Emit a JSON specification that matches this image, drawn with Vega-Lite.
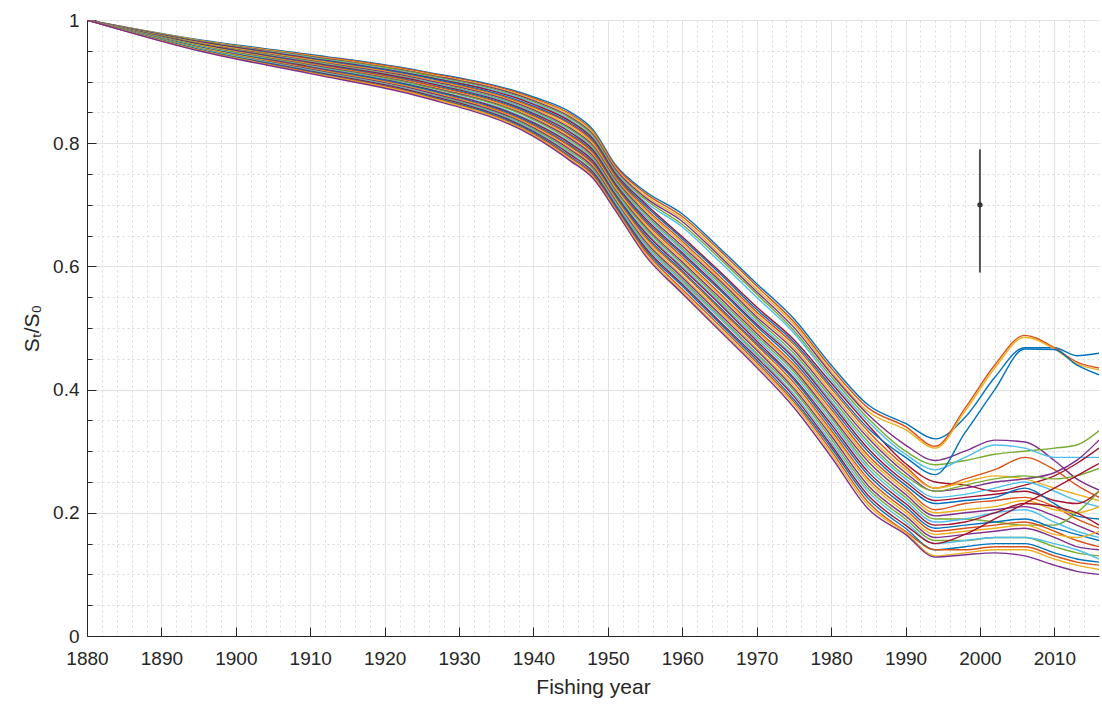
{
"$schema": "https://vega.github.io/schema/vega-lite/v6.json",
"width": 1012, "height": 616,
"autosize": "none",
"padding": {"left": 87, "top": 20, "right": 3, "bottom": 68},
"background": "white",
"config": {"view": {"stroke": null}, "font": "Liberation Sans"},
"datasets": {
"bar": [{"t": 2000, "v": 0.70, "lo": 0.59, "hi": 0.79}],
"runs": [
{"s":0,"t":1880,"v":1},{"s":0,"t":1895,"v":0.968},{"s":0,"t":1910,"v":0.944},{"s":0,"t":1925,"v":0.917},{"s":0,"t":1940,"v":0.875},{"s":0,"t":1945,"v":0.850},{"s":0,"t":1948,"v":0.822},{"s":0,"t":1951,"v":0.765},{"s":0,"t":1955,"v":0.722},{"s":0,"t":1960,"v":0.685},{"s":0,"t":1965,"v":0.630},{"s":0,"t":1970,"v":0.572},{"s":0,"t":1975,"v":0.515},{"s":0,"t":1980,"v":0.440},{"s":0,"t":1985,"v":0.375},{"s":0,"t":1990,"v":0.345},{"s":0,"t":1994,"v":0.320},{"s":0,"t":1998,"v":0.355},{"s":0,"t":2002,"v":0.420},{"s":0,"t":2006,"v":0.468},{"s":0,"t":2010,"v":0.468},{"s":0,"t":2013,"v":0.455},{"s":0,"t":2016,"v":0.459},
{"s":1,"t":1880,"v":1},{"s":1,"t":1895,"v":0.967},{"s":1,"t":1910,"v":0.943},{"s":1,"t":1925,"v":0.916},{"s":1,"t":1940,"v":0.873},{"s":1,"t":1945,"v":0.847},{"s":1,"t":1948,"v":0.819},{"s":1,"t":1951,"v":0.763},{"s":1,"t":1955,"v":0.719},{"s":1,"t":1960,"v":0.681},{"s":1,"t":1965,"v":0.626},{"s":1,"t":1970,"v":0.568},{"s":1,"t":1975,"v":0.510},{"s":1,"t":1980,"v":0.435},{"s":1,"t":1985,"v":0.370},{"s":1,"t":1990,"v":0.340},{"s":1,"t":1994,"v":0.308},{"s":1,"t":1998,"v":0.370},{"s":1,"t":2002,"v":0.440},{"s":1,"t":2006,"v":0.488},{"s":1,"t":2010,"v":0.468},{"s":1,"t":2013,"v":0.445},{"s":1,"t":2016,"v":0.435},
{"s":2,"t":1880,"v":1},{"s":2,"t":1895,"v":0.967},{"s":2,"t":1910,"v":0.942},{"s":2,"t":1925,"v":0.914},{"s":2,"t":1940,"v":0.871},{"s":2,"t":1945,"v":0.845},{"s":2,"t":1948,"v":0.817},{"s":2,"t":1951,"v":0.760},{"s":2,"t":1955,"v":0.715},{"s":2,"t":1960,"v":0.677},{"s":2,"t":1965,"v":0.621},{"s":2,"t":1970,"v":0.563},{"s":2,"t":1975,"v":0.506},{"s":2,"t":1980,"v":0.430},{"s":2,"t":1985,"v":0.364},{"s":2,"t":1990,"v":0.335},{"s":2,"t":1994,"v":0.305},{"s":2,"t":1998,"v":0.365},{"s":2,"t":2002,"v":0.435},{"s":2,"t":2006,"v":0.485},{"s":2,"t":2010,"v":0.466},{"s":2,"t":2013,"v":0.442},{"s":2,"t":2016,"v":0.432},
{"s":3,"t":1880,"v":1},{"s":3,"t":1895,"v":0.966},{"s":3,"t":1910,"v":0.941},{"s":3,"t":1925,"v":0.913},{"s":3,"t":1940,"v":0.869},{"s":3,"t":1945,"v":0.842},{"s":3,"t":1948,"v":0.814},{"s":3,"t":1951,"v":0.758},{"s":3,"t":1955,"v":0.712},{"s":3,"t":1960,"v":0.673},{"s":3,"t":1965,"v":0.617},{"s":3,"t":1970,"v":0.559},{"s":3,"t":1975,"v":0.501},{"s":3,"t":1980,"v":0.426},{"s":3,"t":1985,"v":0.359},{"s":3,"t":1990,"v":0.310},{"s":3,"t":1994,"v":0.285},{"s":3,"t":1998,"v":0.300},{"s":3,"t":2002,"v":0.318},{"s":3,"t":2006,"v":0.315},{"s":3,"t":2010,"v":0.285},{"s":3,"t":2013,"v":0.255},{"s":3,"t":2016,"v":0.237},
{"s":4,"t":1880,"v":1},{"s":4,"t":1895,"v":0.966},{"s":4,"t":1910,"v":0.940},{"s":4,"t":1925,"v":0.912},{"s":4,"t":1940,"v":0.867},{"s":4,"t":1945,"v":0.840},{"s":4,"t":1948,"v":0.812},{"s":4,"t":1951,"v":0.755},{"s":4,"t":1955,"v":0.709},{"s":4,"t":1960,"v":0.668},{"s":4,"t":1965,"v":0.613},{"s":4,"t":1970,"v":0.555},{"s":4,"t":1975,"v":0.496},{"s":4,"t":1980,"v":0.421},{"s":4,"t":1985,"v":0.353},{"s":4,"t":1990,"v":0.300},{"s":4,"t":1994,"v":0.278},{"s":4,"t":1998,"v":0.285},{"s":4,"t":2002,"v":0.295},{"s":4,"t":2006,"v":0.300},{"s":4,"t":2010,"v":0.305},{"s":4,"t":2013,"v":0.310},{"s":4,"t":2016,"v":0.333},
{"s":5,"t":1880,"v":1},{"s":5,"t":1895,"v":0.965},{"s":5,"t":1910,"v":0.939},{"s":5,"t":1925,"v":0.910},{"s":5,"t":1940,"v":0.865},{"s":5,"t":1945,"v":0.837},{"s":5,"t":1948,"v":0.809},{"s":5,"t":1951,"v":0.753},{"s":5,"t":1955,"v":0.705},{"s":5,"t":1960,"v":0.664},{"s":5,"t":1965,"v":0.608},{"s":5,"t":1970,"v":0.550},{"s":5,"t":1975,"v":0.492},{"s":5,"t":1980,"v":0.416},{"s":5,"t":1985,"v":0.348},{"s":5,"t":1990,"v":0.295},{"s":5,"t":1994,"v":0.270},{"s":5,"t":1998,"v":0.290},{"s":5,"t":2002,"v":0.310},{"s":5,"t":2006,"v":0.305},{"s":5,"t":2010,"v":0.290},{"s":5,"t":2013,"v":0.290},{"s":5,"t":2016,"v":0.290},
{"s":6,"t":1880,"v":1},{"s":6,"t":1895,"v":0.965},{"s":6,"t":1910,"v":0.938},{"s":6,"t":1925,"v":0.909},{"s":6,"t":1940,"v":0.863},{"s":6,"t":1945,"v":0.835},{"s":6,"t":1948,"v":0.807},{"s":6,"t":1951,"v":0.751},{"s":6,"t":1955,"v":0.702},{"s":6,"t":1960,"v":0.648},{"s":6,"t":1965,"v":0.592},{"s":6,"t":1970,"v":0.534},{"s":6,"t":1975,"v":0.481},{"s":6,"t":1980,"v":0.411},{"s":6,"t":1985,"v":0.342},{"s":6,"t":1990,"v":0.280},{"s":6,"t":1994,"v":0.250},{"s":6,"t":1998,"v":0.245},{"s":6,"t":2002,"v":0.235},{"s":6,"t":2006,"v":0.245},{"s":6,"t":2010,"v":0.260},{"s":6,"t":2013,"v":0.280},{"s":6,"t":2016,"v":0.305},
{"s":7,"t":1880,"v":1},{"s":7,"t":1895,"v":0.964},{"s":7,"t":1910,"v":0.937},{"s":7,"t":1925,"v":0.908},{"s":7,"t":1940,"v":0.860},{"s":7,"t":1945,"v":0.832},{"s":7,"t":1948,"v":0.804},{"s":7,"t":1951,"v":0.748},{"s":7,"t":1955,"v":0.699},{"s":7,"t":1960,"v":0.645},{"s":7,"t":1965,"v":0.589},{"s":7,"t":1970,"v":0.530},{"s":7,"t":1975,"v":0.477},{"s":7,"t":1980,"v":0.406},{"s":7,"t":1985,"v":0.337},{"s":7,"t":1990,"v":0.290},{"s":7,"t":1994,"v":0.262},{"s":7,"t":1998,"v":0.330},{"s":7,"t":2002,"v":0.400},{"s":7,"t":2006,"v":0.466},{"s":7,"t":2010,"v":0.465},{"s":7,"t":2013,"v":0.440},{"s":7,"t":2016,"v":0.424},
{"s":8,"t":1880,"v":1},{"s":8,"t":1895,"v":0.963},{"s":8,"t":1910,"v":0.936},{"s":8,"t":1925,"v":0.906},{"s":8,"t":1940,"v":0.858},{"s":8,"t":1945,"v":0.830},{"s":8,"t":1948,"v":0.802},{"s":8,"t":1951,"v":0.746},{"s":8,"t":1955,"v":0.695},{"s":8,"t":1960,"v":0.641},{"s":8,"t":1965,"v":0.584},{"s":8,"t":1970,"v":0.526},{"s":8,"t":1975,"v":0.473},{"s":8,"t":1980,"v":0.402},{"s":8,"t":1985,"v":0.332},{"s":8,"t":1990,"v":0.275},{"s":8,"t":1994,"v":0.240},{"s":8,"t":1998,"v":0.255},{"s":8,"t":2002,"v":0.270},{"s":8,"t":2006,"v":0.290},{"s":8,"t":2010,"v":0.270},{"s":8,"t":2013,"v":0.245},{"s":8,"t":2016,"v":0.225},
{"s":9,"t":1880,"v":1},{"s":9,"t":1895,"v":0.963},{"s":9,"t":1910,"v":0.935},{"s":9,"t":1925,"v":0.905},{"s":9,"t":1940,"v":0.856},{"s":9,"t":1945,"v":0.827},{"s":9,"t":1948,"v":0.799},{"s":9,"t":1951,"v":0.743},{"s":9,"t":1955,"v":0.692},{"s":9,"t":1960,"v":0.637},{"s":9,"t":1965,"v":0.580},{"s":9,"t":1970,"v":0.522},{"s":9,"t":1975,"v":0.468},{"s":9,"t":1980,"v":0.397},{"s":9,"t":1985,"v":0.326},{"s":9,"t":1990,"v":0.270},{"s":9,"t":1994,"v":0.240},{"s":9,"t":1998,"v":0.250},{"s":9,"t":2002,"v":0.260},{"s":9,"t":2006,"v":0.255},{"s":9,"t":2010,"v":0.240},{"s":9,"t":2013,"v":0.230},{"s":9,"t":2016,"v":0.220},
{"s":10,"t":1880,"v":1},{"s":10,"t":1895,"v":0.962},{"s":10,"t":1910,"v":0.934},{"s":10,"t":1925,"v":0.904},{"s":10,"t":1940,"v":0.854},{"s":10,"t":1945,"v":0.824},{"s":10,"t":1948,"v":0.796},{"s":10,"t":1951,"v":0.741},{"s":10,"t":1955,"v":0.688},{"s":10,"t":1960,"v":0.633},{"s":10,"t":1965,"v":0.577},{"s":10,"t":1970,"v":0.518},{"s":10,"t":1975,"v":0.464},{"s":10,"t":1980,"v":0.392},{"s":10,"t":1985,"v":0.321},{"s":10,"t":1990,"v":0.265},{"s":10,"t":1994,"v":0.235},{"s":10,"t":1998,"v":0.240},{"s":10,"t":2002,"v":0.250},{"s":10,"t":2006,"v":0.255},{"s":10,"t":2010,"v":0.265},{"s":10,"t":2013,"v":0.285},{"s":10,"t":2016,"v":0.318},
{"s":11,"t":1880,"v":1},{"s":11,"t":1895,"v":0.962},{"s":11,"t":1910,"v":0.933},{"s":11,"t":1925,"v":0.902},{"s":11,"t":1940,"v":0.852},{"s":11,"t":1945,"v":0.822},{"s":11,"t":1948,"v":0.794},{"s":11,"t":1951,"v":0.739},{"s":11,"t":1955,"v":0.685},{"s":11,"t":1960,"v":0.629},{"s":11,"t":1965,"v":0.573},{"s":11,"t":1970,"v":0.514},{"s":11,"t":1975,"v":0.459},{"s":11,"t":1980,"v":0.387},{"s":11,"t":1985,"v":0.315},{"s":11,"t":1990,"v":0.260},{"s":11,"t":1994,"v":0.235},{"s":11,"t":1998,"v":0.245},{"s":11,"t":2002,"v":0.255},{"s":11,"t":2006,"v":0.260},{"s":11,"t":2010,"v":0.255},{"s":11,"t":2013,"v":0.260},{"s":11,"t":2016,"v":0.272},
{"s":12,"t":1880,"v":1},{"s":12,"t":1895,"v":0.961},{"s":12,"t":1910,"v":0.932},{"s":12,"t":1925,"v":0.901},{"s":12,"t":1940,"v":0.850},{"s":12,"t":1945,"v":0.819},{"s":12,"t":1948,"v":0.791},{"s":12,"t":1951,"v":0.736},{"s":12,"t":1955,"v":0.682},{"s":12,"t":1960,"v":0.626},{"s":12,"t":1965,"v":0.569},{"s":12,"t":1970,"v":0.510},{"s":12,"t":1975,"v":0.454},{"s":12,"t":1980,"v":0.382},{"s":12,"t":1985,"v":0.310},{"s":12,"t":1990,"v":0.255},{"s":12,"t":1994,"v":0.225},{"s":12,"t":1998,"v":0.230},{"s":12,"t":2002,"v":0.240},{"s":12,"t":2006,"v":0.250},{"s":12,"t":2010,"v":0.235},{"s":12,"t":2013,"v":0.220},{"s":12,"t":2016,"v":0.210},
{"s":13,"t":1880,"v":1},{"s":13,"t":1895,"v":0.961},{"s":13,"t":1910,"v":0.931},{"s":13,"t":1925,"v":0.900},{"s":13,"t":1940,"v":0.848},{"s":13,"t":1945,"v":0.817},{"s":13,"t":1948,"v":0.789},{"s":13,"t":1951,"v":0.734},{"s":13,"t":1955,"v":0.678},{"s":13,"t":1960,"v":0.622},{"s":13,"t":1965,"v":0.565},{"s":13,"t":1970,"v":0.506},{"s":13,"t":1975,"v":0.451},{"s":13,"t":1980,"v":0.378},{"s":13,"t":1985,"v":0.304},{"s":13,"t":1990,"v":0.250},{"s":13,"t":1994,"v":0.220},{"s":13,"t":1998,"v":0.225},{"s":13,"t":2002,"v":0.230},{"s":13,"t":2006,"v":0.235},{"s":13,"t":2010,"v":0.220},{"s":13,"t":2013,"v":0.215},{"s":13,"t":2016,"v":0.235},
{"s":14,"t":1880,"v":1},{"s":14,"t":1895,"v":0.960},{"s":14,"t":1910,"v":0.930},{"s":14,"t":1925,"v":0.898},{"s":14,"t":1940,"v":0.846},{"s":14,"t":1945,"v":0.814},{"s":14,"t":1948,"v":0.786},{"s":14,"t":1951,"v":0.731},{"s":14,"t":1955,"v":0.675},{"s":14,"t":1960,"v":0.619},{"s":14,"t":1965,"v":0.562},{"s":14,"t":1970,"v":0.503},{"s":14,"t":1975,"v":0.446},{"s":14,"t":1980,"v":0.373},{"s":14,"t":1985,"v":0.299},{"s":14,"t":1990,"v":0.245},{"s":14,"t":1994,"v":0.215},{"s":14,"t":1998,"v":0.220},{"s":14,"t":2002,"v":0.225},{"s":14,"t":2006,"v":0.240},{"s":14,"t":2010,"v":0.215},{"s":14,"t":2013,"v":0.195},{"s":14,"t":2016,"v":0.190},
{"s":15,"t":1880,"v":1},{"s":15,"t":1895,"v":0.959},{"s":15,"t":1910,"v":0.929},{"s":15,"t":1925,"v":0.897},{"s":15,"t":1940,"v":0.844},{"s":15,"t":1945,"v":0.812},{"s":15,"t":1948,"v":0.784},{"s":15,"t":1951,"v":0.729},{"s":15,"t":1955,"v":0.672},{"s":15,"t":1960,"v":0.615},{"s":15,"t":1965,"v":0.557},{"s":15,"t":1970,"v":0.498},{"s":15,"t":1975,"v":0.441},{"s":15,"t":1980,"v":0.368},{"s":15,"t":1985,"v":0.293},{"s":15,"t":1990,"v":0.240},{"s":15,"t":1994,"v":0.205},{"s":15,"t":1998,"v":0.215},{"s":15,"t":2002,"v":0.220},{"s":15,"t":2006,"v":0.225},{"s":15,"t":2010,"v":0.210},{"s":15,"t":2013,"v":0.190},{"s":15,"t":2016,"v":0.175},
{"s":16,"t":1880,"v":1},{"s":16,"t":1895,"v":0.959},{"s":16,"t":1910,"v":0.928},{"s":16,"t":1925,"v":0.895},{"s":16,"t":1940,"v":0.842},{"s":16,"t":1945,"v":0.809},{"s":16,"t":1948,"v":0.781},{"s":16,"t":1951,"v":0.727},{"s":16,"t":1955,"v":0.668},{"s":16,"t":1960,"v":0.611},{"s":16,"t":1965,"v":0.554},{"s":16,"t":1970,"v":0.495},{"s":16,"t":1975,"v":0.437},{"s":16,"t":1980,"v":0.363},{"s":16,"t":1985,"v":0.288},{"s":16,"t":1990,"v":0.235},{"s":16,"t":1994,"v":0.200},{"s":16,"t":1998,"v":0.205},{"s":16,"t":2002,"v":0.210},{"s":16,"t":2006,"v":0.220},{"s":16,"t":2010,"v":0.205},{"s":16,"t":2013,"v":0.200},{"s":16,"t":2016,"v":0.210},
{"s":17,"t":1880,"v":1},{"s":17,"t":1895,"v":0.958},{"s":17,"t":1910,"v":0.927},{"s":17,"t":1925,"v":0.894},{"s":17,"t":1940,"v":0.840},{"s":17,"t":1945,"v":0.807},{"s":17,"t":1948,"v":0.779},{"s":17,"t":1951,"v":0.724},{"s":17,"t":1955,"v":0.665},{"s":17,"t":1960,"v":0.607},{"s":17,"t":1965,"v":0.550},{"s":17,"t":1970,"v":0.491},{"s":17,"t":1975,"v":0.433},{"s":17,"t":1980,"v":0.358},{"s":17,"t":1985,"v":0.283},{"s":17,"t":1990,"v":0.230},{"s":17,"t":1994,"v":0.195},{"s":17,"t":1998,"v":0.200},{"s":17,"t":2002,"v":0.205},{"s":17,"t":2006,"v":0.210},{"s":17,"t":2010,"v":0.195},{"s":17,"t":2013,"v":0.180},{"s":17,"t":2016,"v":0.165},
{"s":18,"t":1880,"v":1},{"s":18,"t":1895,"v":0.958},{"s":18,"t":1910,"v":0.926},{"s":18,"t":1925,"v":0.893},{"s":18,"t":1940,"v":0.838},{"s":18,"t":1945,"v":0.804},{"s":18,"t":1948,"v":0.776},{"s":18,"t":1951,"v":0.722},{"s":18,"t":1955,"v":0.662},{"s":18,"t":1960,"v":0.604},{"s":18,"t":1965,"v":0.546},{"s":18,"t":1970,"v":0.487},{"s":18,"t":1975,"v":0.429},{"s":18,"t":1980,"v":0.354},{"s":18,"t":1985,"v":0.277},{"s":18,"t":1990,"v":0.225},{"s":18,"t":1994,"v":0.190},{"s":18,"t":1998,"v":0.190},{"s":18,"t":2002,"v":0.185},{"s":18,"t":2006,"v":0.180},{"s":18,"t":2010,"v":0.180},{"s":18,"t":2013,"v":0.200},{"s":18,"t":2016,"v":0.235},
{"s":19,"t":1880,"v":1},{"s":19,"t":1895,"v":0.957},{"s":19,"t":1910,"v":0.925},{"s":19,"t":1925,"v":0.891},{"s":19,"t":1940,"v":0.835},{"s":19,"t":1945,"v":0.801},{"s":19,"t":1948,"v":0.773},{"s":19,"t":1951,"v":0.719},{"s":19,"t":1955,"v":0.658},{"s":19,"t":1960,"v":0.600},{"s":19,"t":1965,"v":0.542},{"s":19,"t":1970,"v":0.483},{"s":19,"t":1975,"v":0.424},{"s":19,"t":1980,"v":0.349},{"s":19,"t":1985,"v":0.272},{"s":19,"t":1990,"v":0.220},{"s":19,"t":1994,"v":0.185},{"s":19,"t":1998,"v":0.190},{"s":19,"t":2002,"v":0.200},{"s":19,"t":2006,"v":0.205},{"s":19,"t":2010,"v":0.185},{"s":19,"t":2013,"v":0.170},{"s":19,"t":2016,"v":0.160},
{"s":20,"t":1880,"v":1},{"s":20,"t":1895,"v":0.956},{"s":20,"t":1910,"v":0.924},{"s":20,"t":1925,"v":0.890},{"s":20,"t":1940,"v":0.833},{"s":20,"t":1945,"v":0.799},{"s":20,"t":1948,"v":0.771},{"s":20,"t":1951,"v":0.717},{"s":20,"t":1955,"v":0.655},{"s":20,"t":1960,"v":0.597},{"s":20,"t":1965,"v":0.539},{"s":20,"t":1970,"v":0.479},{"s":20,"t":1975,"v":0.419},{"s":20,"t":1980,"v":0.344},{"s":20,"t":1985,"v":0.266},{"s":20,"t":1990,"v":0.215},{"s":20,"t":1994,"v":0.180},{"s":20,"t":1998,"v":0.185},{"s":20,"t":2002,"v":0.200},{"s":20,"t":2006,"v":0.215},{"s":20,"t":2010,"v":0.210},{"s":20,"t":2013,"v":0.200},{"s":20,"t":2016,"v":0.180},
{"s":21,"t":1880,"v":1},{"s":21,"t":1895,"v":0.956},{"s":21,"t":1910,"v":0.923},{"s":21,"t":1925,"v":0.889},{"s":21,"t":1940,"v":0.831},{"s":21,"t":1945,"v":0.796},{"s":21,"t":1948,"v":0.768},{"s":21,"t":1951,"v":0.715},{"s":21,"t":1955,"v":0.651},{"s":21,"t":1960,"v":0.593},{"s":21,"t":1965,"v":0.534},{"s":21,"t":1970,"v":0.475},{"s":21,"t":1975,"v":0.416},{"s":21,"t":1980,"v":0.339},{"s":21,"t":1985,"v":0.261},{"s":21,"t":1990,"v":0.210},{"s":21,"t":1994,"v":0.175},{"s":21,"t":1998,"v":0.180},{"s":21,"t":2002,"v":0.185},{"s":21,"t":2006,"v":0.190},{"s":21,"t":2010,"v":0.175},{"s":21,"t":2013,"v":0.165},{"s":21,"t":2016,"v":0.155},
{"s":22,"t":1880,"v":1},{"s":22,"t":1895,"v":0.955},{"s":22,"t":1910,"v":0.922},{"s":22,"t":1925,"v":0.887},{"s":22,"t":1940,"v":0.829},{"s":22,"t":1945,"v":0.794},{"s":22,"t":1948,"v":0.766},{"s":22,"t":1951,"v":0.712},{"s":22,"t":1955,"v":0.648},{"s":22,"t":1960,"v":0.590},{"s":22,"t":1965,"v":0.531},{"s":22,"t":1970,"v":0.472},{"s":22,"t":1975,"v":0.411},{"s":22,"t":1980,"v":0.334},{"s":22,"t":1985,"v":0.255},{"s":22,"t":1990,"v":0.205},{"s":22,"t":1994,"v":0.170},{"s":22,"t":1998,"v":0.175},{"s":22,"t":2002,"v":0.180},{"s":22,"t":2006,"v":0.185},{"s":22,"t":2010,"v":0.170},{"s":22,"t":2013,"v":0.155},{"s":22,"t":2016,"v":0.145},
{"s":23,"t":1880,"v":1},{"s":23,"t":1895,"v":0.955},{"s":23,"t":1910,"v":0.921},{"s":23,"t":1925,"v":0.886},{"s":23,"t":1940,"v":0.827},{"s":23,"t":1945,"v":0.791},{"s":23,"t":1948,"v":0.763},{"s":23,"t":1951,"v":0.710},{"s":23,"t":1955,"v":0.645},{"s":23,"t":1960,"v":0.585},{"s":23,"t":1965,"v":0.527},{"s":23,"t":1970,"v":0.467},{"s":23,"t":1975,"v":0.406},{"s":23,"t":1980,"v":0.330},{"s":23,"t":1985,"v":0.250},{"s":23,"t":1990,"v":0.200},{"s":23,"t":1994,"v":0.165},{"s":23,"t":1998,"v":0.170},{"s":23,"t":2002,"v":0.175},{"s":23,"t":2006,"v":0.180},{"s":23,"t":2010,"v":0.165},{"s":23,"t":2013,"v":0.160},{"s":23,"t":2016,"v":0.170},
{"s":24,"t":1880,"v":1},{"s":24,"t":1895,"v":0.954},{"s":24,"t":1910,"v":0.920},{"s":24,"t":1925,"v":0.885},{"s":24,"t":1940,"v":0.825},{"s":24,"t":1945,"v":0.789},{"s":24,"t":1948,"v":0.761},{"s":24,"t":1951,"v":0.707},{"s":24,"t":1955,"v":0.641},{"s":24,"t":1960,"v":0.582},{"s":24,"t":1965,"v":0.523},{"s":24,"t":1970,"v":0.464},{"s":24,"t":1975,"v":0.402},{"s":24,"t":1980,"v":0.325},{"s":24,"t":1985,"v":0.244},{"s":24,"t":1990,"v":0.195},{"s":24,"t":1994,"v":0.160},{"s":24,"t":1998,"v":0.165},{"s":24,"t":2002,"v":0.170},{"s":24,"t":2006,"v":0.175},{"s":24,"t":2010,"v":0.160},{"s":24,"t":2013,"v":0.145},{"s":24,"t":2016,"v":0.140},
{"s":25,"t":1880,"v":1},{"s":25,"t":1895,"v":0.954},{"s":25,"t":1910,"v":0.919},{"s":25,"t":1925,"v":0.883},{"s":25,"t":1940,"v":0.823},{"s":25,"t":1945,"v":0.786},{"s":25,"t":1948,"v":0.758},{"s":25,"t":1951,"v":0.705},{"s":25,"t":1955,"v":0.638},{"s":25,"t":1960,"v":0.578},{"s":25,"t":1965,"v":0.519},{"s":25,"t":1970,"v":0.459},{"s":25,"t":1975,"v":0.398},{"s":25,"t":1980,"v":0.320},{"s":25,"t":1985,"v":0.239},{"s":25,"t":1990,"v":0.190},{"s":25,"t":1994,"v":0.155},{"s":25,"t":1998,"v":0.155},{"s":25,"t":2002,"v":0.160},{"s":25,"t":2006,"v":0.160},{"s":25,"t":2010,"v":0.145},{"s":25,"t":2013,"v":0.135},{"s":25,"t":2016,"v":0.130},
{"s":26,"t":1880,"v":1},{"s":26,"t":1895,"v":0.953},{"s":26,"t":1910,"v":0.918},{"s":26,"t":1925,"v":0.882},{"s":26,"t":1940,"v":0.821},{"s":26,"t":1945,"v":0.783},{"s":26,"t":1948,"v":0.755},{"s":26,"t":1951,"v":0.703},{"s":26,"t":1955,"v":0.635},{"s":26,"t":1960,"v":0.575},{"s":26,"t":1965,"v":0.516},{"s":26,"t":1970,"v":0.456},{"s":26,"t":1975,"v":0.393},{"s":26,"t":1980,"v":0.315},{"s":26,"t":1985,"v":0.234},{"s":26,"t":1990,"v":0.185},{"s":26,"t":1994,"v":0.150},{"s":26,"t":1998,"v":0.155},{"s":26,"t":2002,"v":0.160},{"s":26,"t":2006,"v":0.160},{"s":26,"t":2010,"v":0.150},{"s":26,"t":2013,"v":0.140},{"s":26,"t":2016,"v":0.125},
{"s":27,"t":1880,"v":1},{"s":27,"t":1895,"v":0.952},{"s":27,"t":1910,"v":0.917},{"s":27,"t":1925,"v":0.881},{"s":27,"t":1940,"v":0.819},{"s":27,"t":1945,"v":0.781},{"s":27,"t":1948,"v":0.753},{"s":27,"t":1951,"v":0.700},{"s":27,"t":1955,"v":0.631},{"s":27,"t":1960,"v":0.571},{"s":27,"t":1965,"v":0.511},{"s":27,"t":1970,"v":0.452},{"s":27,"t":1975,"v":0.389},{"s":27,"t":1980,"v":0.310},{"s":27,"t":1985,"v":0.228},{"s":27,"t":1990,"v":0.180},{"s":27,"t":1994,"v":0.150},{"s":27,"t":1998,"v":0.165},{"s":27,"t":2002,"v":0.190},{"s":27,"t":2006,"v":0.215},{"s":27,"t":2010,"v":0.240},{"s":27,"t":2013,"v":0.260},{"s":27,"t":2016,"v":0.280},
{"s":28,"t":1880,"v":1},{"s":28,"t":1895,"v":0.952},{"s":28,"t":1910,"v":0.916},{"s":28,"t":1925,"v":0.879},{"s":28,"t":1940,"v":0.817},{"s":28,"t":1945,"v":0.778},{"s":28,"t":1948,"v":0.750},{"s":28,"t":1951,"v":0.698},{"s":28,"t":1955,"v":0.628},{"s":28,"t":1960,"v":0.568},{"s":28,"t":1965,"v":0.508},{"s":28,"t":1970,"v":0.448},{"s":28,"t":1975,"v":0.384},{"s":28,"t":1980,"v":0.306},{"s":28,"t":1985,"v":0.223},{"s":28,"t":1990,"v":0.175},{"s":28,"t":1994,"v":0.140},{"s":28,"t":1998,"v":0.145},{"s":28,"t":2002,"v":0.150},{"s":28,"t":2006,"v":0.150},{"s":28,"t":2010,"v":0.135},{"s":28,"t":2013,"v":0.125},{"s":28,"t":2016,"v":0.120},
{"s":29,"t":1880,"v":1},{"s":29,"t":1895,"v":0.951},{"s":29,"t":1910,"v":0.915},{"s":29,"t":1925,"v":0.878},{"s":29,"t":1940,"v":0.815},{"s":29,"t":1945,"v":0.776},{"s":29,"t":1948,"v":0.748},{"s":29,"t":1951,"v":0.695},{"s":29,"t":1955,"v":0.625},{"s":29,"t":1960,"v":0.563},{"s":29,"t":1965,"v":0.504},{"s":29,"t":1970,"v":0.444},{"s":29,"t":1975,"v":0.380},{"s":29,"t":1980,"v":0.301},{"s":29,"t":1985,"v":0.217},{"s":29,"t":1990,"v":0.170},{"s":29,"t":1994,"v":0.140},{"s":29,"t":1998,"v":0.140},{"s":29,"t":2002,"v":0.145},{"s":29,"t":2006,"v":0.145},{"s":29,"t":2010,"v":0.130},{"s":29,"t":2013,"v":0.120},{"s":29,"t":2016,"v":0.115},
{"s":30,"t":1880,"v":1},{"s":30,"t":1895,"v":0.951},{"s":30,"t":1910,"v":0.914},{"s":30,"t":1925,"v":0.877},{"s":30,"t":1940,"v":0.813},{"s":30,"t":1945,"v":0.773},{"s":30,"t":1948,"v":0.745},{"s":30,"t":1951,"v":0.693},{"s":30,"t":1955,"v":0.621},{"s":30,"t":1960,"v":0.559},{"s":30,"t":1965,"v":0.499},{"s":30,"t":1970,"v":0.440},{"s":30,"t":1975,"v":0.376},{"s":30,"t":1980,"v":0.296},{"s":30,"t":1985,"v":0.212},{"s":30,"t":1990,"v":0.168},{"s":30,"t":1994,"v":0.130},{"s":30,"t":1998,"v":0.135},{"s":30,"t":2002,"v":0.140},{"s":30,"t":2006,"v":0.140},{"s":30,"t":2010,"v":0.125},{"s":30,"t":2013,"v":0.115},{"s":30,"t":2016,"v":0.108},
{"s":31,"t":1880,"v":1},{"s":31,"t":1895,"v":0.950},{"s":31,"t":1910,"v":0.913},{"s":31,"t":1925,"v":0.875},{"s":31,"t":1940,"v":0.811},{"s":31,"t":1945,"v":0.771},{"s":31,"t":1948,"v":0.743},{"s":31,"t":1951,"v":0.691},{"s":31,"t":1955,"v":0.618},{"s":31,"t":1960,"v":0.556},{"s":31,"t":1965,"v":0.496},{"s":31,"t":1970,"v":0.436},{"s":31,"t":1975,"v":0.371},{"s":31,"t":1980,"v":0.291},{"s":31,"t":1985,"v":0.206},{"s":31,"t":1990,"v":0.165},{"s":31,"t":1994,"v":0.128},{"s":31,"t":1998,"v":0.132},{"s":31,"t":2002,"v":0.135},{"s":31,"t":2006,"v":0.130},{"s":31,"t":2010,"v":0.115},{"s":31,"t":2013,"v":0.105},{"s":31,"t":2016,"v":0.100}
]},
"layer": [
{"data": {"name": "runs"},
 "mark": {"type": "line", "interpolate": "monotone", "strokeWidth": 1.4, "clip": true},
 "encoding": {
  "x": {"field": "t", "type": "quantitative", "scale": {"domain": [1880, 2016], "nice": false, "zero": false},
        "axis": {"orient": "bottom", "values": [1880,1890,1900,1910,1920,1930,1940,1950,1960,1970,1980,1990,2000,2010], "format": "d",
                 "title": "Fishing year", "grid": true, "gridColor": "#e2e2e2", "gridWidth": 1, "labelFlush": false,
                 "domainColor": "#262626", "domainWidth": 1, "tickColor": "#262626", "tickSize": -9, "tickWidth": 1,
                 "labelPadding": 22, "labelFontSize": 19, "labelColor": "#262626", "labelFont": "Liberation Sans",
                 "titleFontSize": 21, "titleColor": "#262626", "titleFontWeight": "normal", "titleFont": "Liberation Sans", "titlePadding": 8}},
  "y": {"field": "v", "type": "quantitative", "scale": {"domain": [0, 1], "nice": false},
        "axis": {"orient": "left", "values": [0,0.2,0.4,0.6,0.8,1], "format": ".1~f", "labelFlush": false,
                 "title": "Sₜ/S₀", "grid": true, "gridColor": "#e2e2e2", "gridWidth": 1,
                 "domainColor": "#262626", "domainWidth": 1, "tickColor": "#262626", "tickSize": -9, "tickWidth": 1,
                 "labelPadding": 17, "labelFontSize": 19, "labelColor": "#262626", "labelFont": "Liberation Sans",
                 "titleFontSize": 21, "titleColor": "#262626", "titleFontWeight": "normal", "titleFont": "Liberation Sans", "titlePadding": 10}},
  "color": {"field": "s", "type": "nominal", "scale": {"range": ["#0072BD","#D95319","#EDB120","#7E2F8E","#77AC30","#4DBEEE","#A2142F"]}, "legend": null}
 }},
{"data": {"name": "bar"},
 "mark": {"type": "rule", "strokeWidth": 2, "color": "#555555"},
 "encoding": {
  "x": {"field": "t", "type": "quantitative",
        "axis": {"orient": "bottom", "values": [1882,1884,1886,1888,1892,1894,1896,1898,1902,1904,1906,1908,1912,1914,1916,1918,1922,1924,1926,1928,1932,1934,1936,1938,1942,1944,1946,1948,1952,1954,1956,1958,1962,1964,1966,1968,1972,1974,1976,1978,1982,1984,1986,1988,1992,1994,1996,1998,2002,2004,2006,2008,2012,2014],
                 "grid": true, "gridColor": "#d9d9d9", "gridDash": [2, 3], "gridWidth": 1, "ticks": false, "labels": false, "domain": false, "title": null}},
  "y": {"field": "lo", "type": "quantitative",
        "axis": {"orient": "left", "values": [0.05,0.1,0.15,0.25,0.3,0.35,0.45,0.5,0.55,0.65,0.7,0.75,0.85,0.9,0.95],
                 "grid": true, "gridColor": "#d9d9d9", "gridDash": [2, 3], "gridWidth": 1, "ticks": true, "tickSize": -5, "tickColor": "#262626", "labels": false, "domain": false, "title": null}},
  "y2": {"field": "hi"}
 }},
{"data": {"name": "bar"},
 "mark": {"type": "point", "filled": true, "size": 28, "color": "#333333", "opacity": 1},
 "encoding": {
  "x": {"field": "t", "type": "quantitative", "axis": null},
  "y": {"field": "v", "type": "quantitative", "axis": null}
 }}
],
"resolve": {"axis": {"x": "independent", "y": "independent"}}
}
